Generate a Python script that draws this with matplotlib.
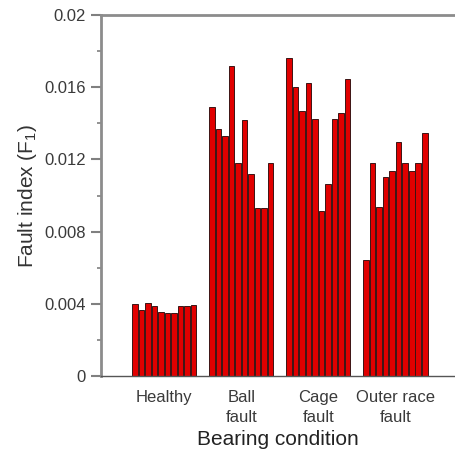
import numpy as np
import matplotlib
matplotlib.use("Agg")
import matplotlib.pyplot as plt

plt.rcParams['font.family'] = ['Liberation Sans', 'DejaVu Sans']
plt.rcParams['mathtext.fontset'] = 'custom'
plt.rcParams['mathtext.rm'] = 'Liberation Sans'
plt.rcParams['mathtext.it'] = 'Liberation Sans:italic'

# fault index per test
conditions = ['Healthy', 'Ball\nfault', 'Cage\nfault', 'Outer race\nfault']
healthy = [0.00397, 0.00366, 0.00403, 0.00390, 0.00356, 0.00347, 0.00350, 0.00388, 0.00388, 0.00393]
ball = [0.01492, 0.01367, 0.01330, 0.01717, 0.01182, 0.01418, 0.01117, 0.00929, 0.00929, 0.01178]
cage = [0.01763, 0.01600, 0.01468, 0.01625, 0.01425, 0.00914, 0.01064, 0.01425, 0.01459, 0.01645]
outer = [0.00643, 0.01178, 0.00938, 0.01104, 0.01136, 0.01295, 0.01182, 0.01136, 0.01178, 0.01348]
yticks = [0, 0.004, 0.008, 0.012, 0.016, 0.02]
ytick_labels = ['0', '0.004', '0.008', '0.012', '0.016', '0.02']

groups = [healthy, ball, cage, outer]
group_step = 11.85  # 10 bars + gap

fig = plt.figure(figsize=(4.55, 4.55), dpi=100)
ax = fig.add_axes([101 / 455, 1 - 376 / 455, 1 - 101 / 455, 361 / 455])

centers = []
for g, vals in enumerate(groups):
    x = g * group_step + np.arange(len(vals)) + 0.5
    ax.bar(x, vals, width=0.85, color='#e10000', edgecolor='#3c1414', linewidth=0.7)
    centers.append(g * group_step + len(vals) / 2)

ax.set_xlim(-4.72, 49.7)
ax.set_ylim(0, 0.02)

ax.set_yticks(yticks)
ax.set_yticklabels(ytick_labels)
ax.set_yticks([0.002, 0.006, 0.010, 0.014, 0.018], minor=True)
ax.set_xticks(centers)
ax.set_xticklabels(conditions, linespacing=1.4)

ax.tick_params(axis='y', which='major', direction='out', length=7, width=1.5,
               color='#808080', labelsize=12, labelcolor='#3a3a3a', pad=4)
ax.tick_params(axis='y', which='minor', direction='out', length=3, width=1.2, color='#808080')
ax.tick_params(axis='x', length=0, labelsize=12, labelcolor='#3a3a3a', pad=10)

for s in ['left', 'top']:
    ax.spines[s].set_color('#8c8c8c')
    ax.spines[s].set_linewidth(2)
ax.spines['bottom'].set_color('#555555')
ax.spines['bottom'].set_linewidth(1)
ax.spines['right'].set_visible(False)

ax.set_ylabel('Fault index (F$_1$)', fontsize=15, color='#333333', labelpad=4)
ax.set_xlabel('Bearing condition', fontsize=15, color='#222222', labelpad=4)

fig.savefig('out.png', dpi=100)
